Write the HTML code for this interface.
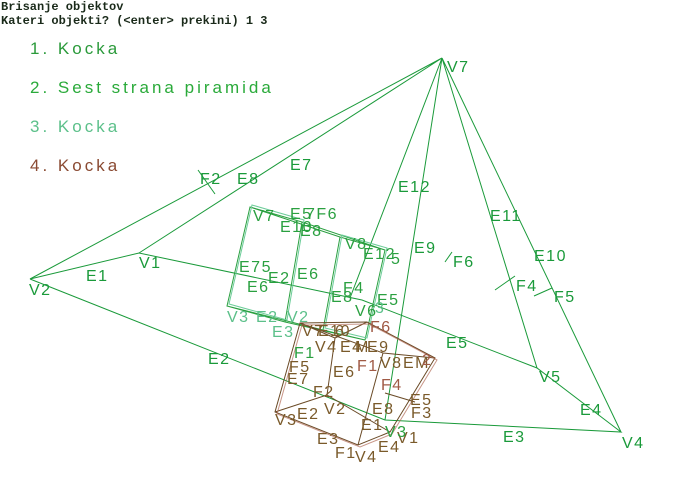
<!DOCTYPE html>
<html><head><meta charset="utf-8"><style>
html,body{margin:0;padding:0;background:#fff;width:685px;height:497px;overflow:hidden}
svg{display:block}
.h{font-family:"Liberation Mono",monospace;font-size:12px;font-weight:bold;fill:#1a2a1a}
.m{font-family:"Liberation Sans",sans-serif;font-size:17px;letter-spacing:3px}
.l{font-family:"Liberation Sans",sans-serif;font-size:16px;letter-spacing:1.5px}
</style></head><body>
<svg width="685" height="497" viewBox="0 0 685 497" xmlns="http://www.w3.org/2000/svg">
<text class="h" x="1" y="10">Brisanje objektov</text>
<text class="h" x="1" y="24">Kateri objekti? (&lt;enter&gt; prekini) 1 3</text>
<text class="m" x="30" y="54" fill="#2a9a3a">1. Kocka</text>
<text class="m" x="30" y="93" fill="#2aaa3a">2. Sest strana piramida</text>
<text class="m" x="30" y="132" fill="#5cc08a">3. Kocka</text>
<text class="m" x="30" y="171" fill="#8a4a32">4. Kocka</text>

<!-- pyramid -->
<g stroke="#1a9a3a" stroke-width="1" fill="none">
<path d="M442,58 L30,279 M442,58 L139,253 M442,58 L350,298 M442,58 L385,420 M442,58 L537,368 M442,58 L621,432"/>
<path d="M30,279 L139,253 L362,300 L537,368 L621,432 L385,420 L30,279"/>
<path d="M198,170 L215,194 M445,262 L452,252 M495,290 L515,276 M534,296 L552,288"/>
</g>
<g fill="#1a9a3a" class="l">
<text x="447" y="72">V7</text><text x="29" y="295">V2</text><text x="139" y="268">V1</text>
<text x="86" y="281">E1</text><text x="208" y="364">E2</text><text x="503" y="442">E3</text>
<text x="580" y="415">E4</text><text x="446" y="348">E5</text><text x="539" y="382">V5</text>
<text x="622" y="448">V4</text><text x="290" y="170">E7</text><text x="237" y="184">E8</text>
<text x="200" y="184">F2</text><text x="398" y="192">E12</text><text x="490" y="221">E11</text>
<text x="534" y="261">E10</text><text x="414" y="253">E9</text><text x="453" y="267">F6</text>
<text x="516" y="291">F4</text><text x="554" y="302">F5</text>
</g>

<!-- cube 1 / 3 -->
<g stroke="#2aa040" stroke-width="1" fill="none">
<path d="M250,207 L302,222 L285,322 L227,306 Z M340,237 L385,250 L365,340 L323,330 Z M250,207 L340,237 M302,222 L385,250 M227,306 L323,330 M285,322 L365,340"/>
</g>
<g stroke="#6ccc99" stroke-width="1" fill="none">
<path d="M252,205 L304,220 L287,320 L229,304 Z M342,235 L387,248 L367,338 L325,328 Z"/>
</g>
<g fill="#2aa040" class="l">
<text x="253" y="221">V7</text><text x="290" y="219">E5</text><text x="306" y="219">7F6</text>
<text x="280" y="232">E10</text><text x="300" y="236">E8</text><text x="239" y="272">E75</text>
<text x="268" y="283">E2</text><text x="297" y="279">E6</text><text x="247" y="292">E6</text>
<text x="345" y="249">V8</text><text x="363" y="259">E12</text><text x="391" y="264">5</text>
<text x="343" y="293">F4</text><text x="331" y="302">E8</text><text x="377" y="305">E5</text>
<text x="355" y="316">V6</text>
</g>
<g fill="#5cc08a" class="l">
<text x="227" y="322">V3</text><text x="256" y="322">E2</text><text x="287" y="322">V2</text>
<text x="272" y="337">E3</text><text x="375" y="313">3</text>
</g>

<!-- cube 4 brown -->
<g stroke="#6a4a26" stroke-width="1" fill="none">
<path d="M300,323 L367,322 L435,358 L390,432 L358,445 L275,412 Z"/>
<path d="M300,323 L383,353 L435,358 M383,353 L358,445"/>
<path d="M335,338 L327,395 L275,412 M327,395 L390,432 M335,338 L367,322 M335,338 L300,323"/>
<path d="M385,393 L415,402"/>
</g>
<g stroke="#b06a55" stroke-width="1" fill="none" opacity="0.7">
<path d="M302,325 L369,324 L437,360 L392,434 L360,447 L277,414 Z"/>
</g>
<g fill="#7a5a2a" class="l">
<text x="302" y="336">V7</text><text x="318" y="336">E10</text><text x="335" y="336">6</text>
<text x="315" y="352">V4</text><text x="340" y="352">E4</text><text x="355" y="352">M</text>
<text x="367" y="352">E9</text><text x="380" y="368">V8</text><text x="403" y="368">EM</text>
<text x="289" y="372">F5</text><text x="287" y="384">E7</text><text x="333" y="377">E6</text>
<text x="313" y="397">F2</text><text x="324" y="414">V2</text><text x="297" y="419">E2</text>
<text x="275" y="425">V3</text><text x="372" y="414">E8</text><text x="410" y="405">E5</text>
<text x="411" y="418">F3</text><text x="361" y="430">E1</text><text x="317" y="444">E3</text>
<text x="335" y="458">F1</text><text x="355" y="462">V4</text><text x="378" y="452">E4</text>
<text x="397" y="443">V1</text>
</g>
<g fill="#a05a45" class="l">
<text x="370" y="332">F6</text><text x="357" y="371">F1</text><text x="381" y="390">F4</text>
<text x="422" y="365">2</text>
</g>
<g fill="#2aa040" class="l"><text x="294" y="358">F1</text><text x="385" y="437">V3</text></g>
</svg>
</body></html>
